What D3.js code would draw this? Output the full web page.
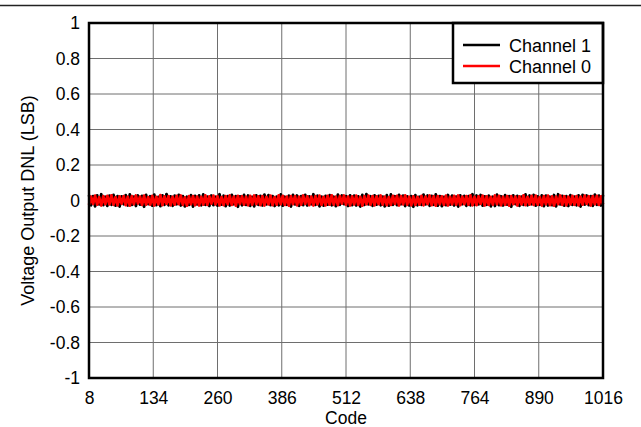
<!DOCTYPE html>
<html><head><meta charset="utf-8">
<script src="https://cdn.jsdelivr.net/npm/d3@7"></script>
<style>body{margin:0;background:#fff}svg{display:block}text{font-family:Arial,"Liberation Sans",sans-serif;fill:#000}</style>
</head><body><svg id="c" width="641" height="427"></svg>
<script>
const xTicks = [8,134,260,386,512,638,764,890,1016];
const yTicks = [1,0.8,0.6,0.4,0.2,0,-0.2,-0.4,-0.6,-0.8,-1];
const seriesNames = ["Channel 1","Channel 0"];
const codes = d3.range(8, 1017, 4);
const channel1 = [0.031,-0.027,0.024,-0.033,0.029,-0.022,0.035,-0.026,0.021,-0.03,
0.027,-0.024,0.032,-0.029,0.025,-0.034,0.023,-0.021,0.03,-0.028,
0.034,-0.025,0.022,-0.031,0.028,-0.023,0.026,-0.035,0.031,-0.02,
0.024,-0.029,0.033,-0.026,0.02,-0.032,0.029,-0.024,0.036,-0.027,
0.023,-0.03,0.027,-0.021,0.032,-0.028,0.025,-0.033,0.021,-0.025,
0.03,-0.034,0.026,-0.022,0.029,-0.027,0.034,-0.024,0.022,-0.031,
0.028,-0.026,0.021,-0.029,0.035,-0.023,0.027,-0.032,0.024,-0.028,
0.032,-0.021,0.025,-0.035,0.023,-0.027,0.031,-0.025,0.028,-0.03,
0.02,-0.033,0.029,-0.024,0.026,-0.028,0.033,-0.022,0.03,-0.026,
0.025,-0.031,0.022,-0.027,0.034,-0.029,0.021,-0.024,0.027,-0.034,
0.031,-0.022,0.028,-0.03,0.024,-0.026,0.032,-0.028,0.023,-0.021,
0.035,-0.025,0.027,-0.033,0.022,-0.029,0.026,-0.023,0.03,-0.027,
0.021,-0.032,0.033,-0.024,0.028,-0.02,0.025,-0.031,0.029,-0.026,
0.027,-0.028,0.023,-0.034,0.031,-0.025,0.036,-0.022,0.024,-0.03,
0.029,-0.023,0.026,-0.027,0.022,-0.033,0.03,-0.029,0.034,-0.024,
0.024,-0.026,0.032,-0.021,0.027,-0.031,0.023,-0.028,0.025,-0.035,
0.03,-0.027,0.021,-0.025,0.033,-0.022,0.028,-0.03,0.026,-0.024,
0.034,-0.029,0.025,-0.032,0.02,-0.026,0.031,-0.023,0.027,-0.028,
0.022,-0.034,0.029,-0.021,0.026,-0.03,0.024,-0.027,0.035,-0.025,
0.028,-0.022,0.031,-0.029,0.023,-0.024,0.027,-0.033,0.021,-0.031,
0.033,-0.026,0.024,-0.028,0.03,-0.023,0.025,-0.035,0.029,-0.02,
0.026,-0.03,0.022,-0.025,0.034,-0.027,0.028,-0.021,0.032,-0.029,
0.023,-0.024,0.029,-0.032,0.027,-0.028,0.021,-0.026,0.031,-0.033,
0.035,-0.022,0.026,-0.029,0.024,-0.031,0.03,-0.025,0.022,-0.027,
0.029,-0.034,0.032,-0.023,0.028,-0.026,0.025,-0.03,0.033,-0.024,
0.027,-0.028,0.031];
const channel0 = [-0.025,0.022,-0.019,0.027,-0.023,0.018,-0.028,0.024,-0.02,0.026,
-0.022,0.029,-0.024,0.019,-0.027,0.023,-0.018,0.025,-0.026,0.021,
-0.029,0.024,-0.021,0.028,-0.017,0.022,-0.025,0.027,-0.023,0.019,
-0.024,0.026,-0.028,0.02,-0.022,0.03,-0.026,0.023,-0.019,0.025,
-0.027,0.021,-0.023,0.026,-0.02,0.028,-0.024,0.018,-0.029,0.024,
-0.021,0.025,-0.026,0.022,-0.028,0.02,-0.023,0.029,-0.025,0.023,
-0.018,0.027,-0.022,0.024,-0.027,0.019,-0.026,0.025,-0.021,0.028,
-0.025,0.022,-0.029,0.026,-0.019,0.024,-0.023,0.021,-0.027,0.026,
-0.023,0.028,-0.02,0.023,-0.026,0.025,-0.028,0.02,-0.022,0.027,
-0.026,0.019,-0.024,0.029,-0.021,0.026,-0.025,0.022,-0.029,0.024,
-0.02,0.025,-0.027,0.021,-0.024,0.028,-0.019,0.023,-0.026,0.022,
-0.028,0.024,-0.022,0.027,-0.025,0.02,-0.027,0.026,-0.023,0.029,
-0.024,0.021,-0.026,0.025,-0.018,0.028,-0.024,0.022,-0.028,0.023,
-0.022,0.027,-0.025,0.02,-0.029,0.024,-0.021,0.027,-0.024,0.025,
-0.027,0.023,-0.02,0.028,-0.023,0.022,-0.026,0.019,-0.025,0.026,
-0.019,0.026,-0.028,0.024,-0.022,0.029,-0.024,0.021,-0.027,0.023,
-0.025,0.02,-0.023,0.026,-0.027,0.022,-0.02,0.028,-0.026,0.024,
-0.029,0.025,-0.021,0.023,-0.025,0.027,-0.028,0.02,-0.022,0.026,
-0.023,0.028,-0.026,0.022,-0.02,0.025,-0.024,0.029,-0.027,0.021,
-0.026,0.024,-0.019,0.027,-0.028,0.023,-0.025,0.02,-0.023,0.028,
-0.021,0.026,-0.027,0.021,-0.024,0.025,-0.029,0.024,-0.02,0.022,
-0.028,0.023,-0.022,0.029,-0.026,0.02,-0.023,0.026,-0.025,0.027,
-0.024,0.019,-0.028,0.025,-0.021,0.027,-0.026,0.023,-0.029,0.022,
-0.02,0.028,-0.025,0.024,-0.027,0.021,-0.022,0.026,-0.024,0.025,
-0.027,0.022,-0.023,0.027,-0.019,0.024,-0.028,0.025,-0.021,0.026,
-0.025,0.023,-0.022];
const colors = ["#000000","#ff0000"];

const svg = d3.select("#c");
const L=89, T=23, R=603, B=378;
const x = d3.scaleLinear().domain([8,1016]).range([L,R]);
const y = d3.scaleLinear().domain([-1,1]).range([B,T]);

// top separator
svg.append("line").attr("x1",0).attr("x2",641).attr("y1",5.5).attr("y2",5.5).attr("stroke","#222").attr("stroke-width",1.5);

// grid
const g = svg.append("g");
g.selectAll(".vx").data(xTicks.slice(1,-1)).enter().append("line")
 .attr("x1",d=>x(d)).attr("x2",d=>x(d)).attr("y1",T).attr("y2",B).attr("stroke","#6e6e6e").attr("stroke-width",1);
g.selectAll(".hy").data(yTicks.slice(1,-1)).enter().append("line")
 .attr("y1",d=>y(d)).attr("y2",d=>y(d)).attr("x1",L).attr("x2",R).attr("stroke","#6e6e6e").attr("stroke-width",1);

// axes labels
const xa = d3.axisBottom(x).tickValues(xTicks).tickSize(0).tickPadding(14).tickFormat(d3.format("d"));
const xg = svg.append("g").attr("transform",`translate(0,${B})`).call(xa);
xg.select(".domain").remove();
xg.selectAll("text").style("font-size","17.5px").attr("font-family","Arial, Liberation Sans, sans-serif");
const ya = d3.axisLeft(y).tickValues(yTicks).tickSize(0).tickPadding(9).tickFormat(d=>String(Math.round(d*10)/10));
const yg = svg.append("g").attr("transform",`translate(${L},0)`).call(ya);
yg.select(".domain").remove();
yg.selectAll("text").style("font-size","17.5px").attr("font-family","Arial, Liberation Sans, sans-serif");

// lines
const series = [channel1, channel0];
const line = d3.line().x((d,i)=>x(codes[i])).y(d=>y(d));
series.forEach((s,k)=>{
  svg.append("path").datum(s).attr("d",line).attr("fill","none").attr("stroke",colors[k]).attr("stroke-width",2.8).attr("stroke-linejoin","round");
});

// legend
const lg = svg.append("g");
lg.append("rect").attr("x",453).attr("y",T).attr("width",R-453).attr("height",60).attr("fill","#fff").attr("stroke","#000").attr("stroke-width",2.5);
seriesNames.forEach((n,i)=>{
  const yy = 45 + i*21;
  lg.append("line").attr("x1",463).attr("x2",500).attr("y1",yy).attr("y2",yy).attr("stroke",colors[i]).attr("stroke-width",2.5);
  lg.append("text").attr("x",509).attr("y",yy+6.5).style("font-size","18px").text(n);
});

// frame
svg.append("rect").attr("x",L).attr("y",T).attr("width",R-L).attr("height",B-T).attr("fill","none").attr("stroke","#000").attr("stroke-width",2.5);

// titles
svg.append("text").attr("x",(L+R)/2).attr("y",424).attr("text-anchor","middle").style("font-size","17.5px").text("Code");
svg.append("text").attr("transform",`translate(34,${(T+B)/2}) rotate(-90)`).attr("text-anchor","middle").style("font-size","18px").text("Voltage Output DNL (LSB)");
</script></body></html>
